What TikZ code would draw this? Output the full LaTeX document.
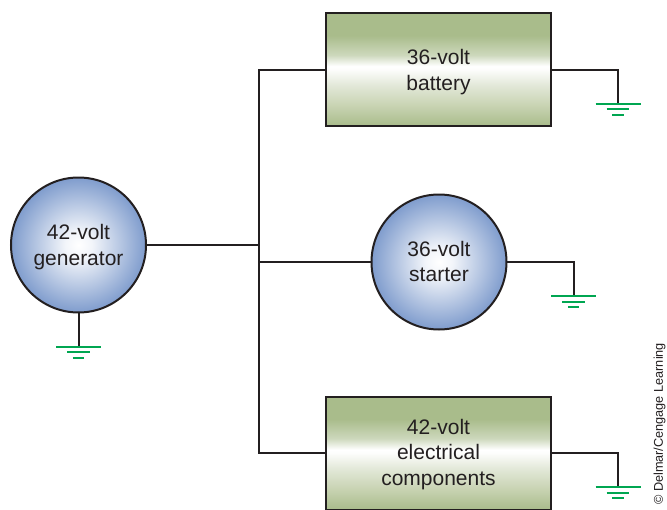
\documentclass[tikz,border=0pt]{standalone}
\usepackage{fontspec}
\setmainfont{Liberation Sans}
\definecolor{ink}{HTML}{231F20}
\definecolor{earth}{HTML}{00A651}
\definecolor{boxedge}{HTML}{A9BC8B}
\definecolor{boxup}{HTML}{CDD8BC}
\definecolor{boxmid}{HTML}{E2E8D8}
\definecolor{boxlow}{HTML}{C8D3B2}
\definecolor{blueedge}{HTML}{7F9CCD}
\pgfdeclareverticalshading{boxgrad}{100bp}{
  color(0bp)=(boxedge);
  color(25bp)=(boxedge);
  color(34bp)=(boxlow);
  color(43bp)=(boxmid);
  color(50bp)=(white!92!boxmid);
  color(51.5bp)=(white);
  color(56.4bp)=(boxup);
  color(65bp)=(boxedge);
  color(100bp)=(boxedge)}
\pgfdeclareradialshading{discgrad}{\pgfpoint{0bp}{0bp}}{
  color(0bp)=(white);
  color(5bp)=(white!90!blueedge);
  color(25bp)=(blueedge);
  color(50bp)=(blueedge)}
\tikzset{
  wire/.style={draw=ink,line width=2pt},
  label text/.style={text=ink,font=\fontsize{21}{25.7}\selectfont,align=center,inner sep=0pt},
  unitbox/.style={rectangle,draw=ink,line width=2pt,shading=boxgrad,
    minimum width=225pt,minimum height=113pt,inner sep=0pt,outer sep=0pt},
  unitdisc/.style={circle,draw=ink,line width=2pt,shading=discgrad,
    minimum size=135pt,inner sep=0pt,outer sep=0pt},
  groundmark/.pic={
    \draw[earth,line width=2pt] (-22.5,0) -- (22.5,0);
    \draw[earth,line width=2pt] (-11.3,5.6) -- (11.3,5.6);
    \draw[earth,line width=2pt] (-5.6,11.3) -- (5.6,11.3);
  }
}
\begin{document}
\begin{tikzpicture}[x=1pt,y=-1pt]
\useasboundingbox (0,0) rectangle (667,509);
\clip (0,0) rectangle (667,509);
\node[unitdisc,label={[label text,yshift=-2pt]center:42-volt\\generator}] (gen) at (78.5,245) {};
\node[unitdisc,label={[label text,yshift=0.5pt]center:36-volt\\starter}] (starter) at (439,262) {};
\node[unitbox,label={[label text,yshift=-2.5pt]center:36-volt\\battery}] (batt) at (438.5,69.5) {};
\node[unitbox,label={[label text,yshift=-1.5pt]center:42-volt\\electrical\\components}] (comp) at (438.5,453) {};
\coordinate (jgen) at (258.5,245);
\coordinate (jstart) at (258.5,262);
\coordinate (jbatt) at (258.5,69.5);
\coordinate (jcomp) at (258.5,453);
\coordinate (ggen) at (78.5,346.5);
\coordinate (gstart) at (573.5,296);
\coordinate (gbatt) at (618,103.5);
\coordinate (gcomp) at (618,487);
\draw[wire] (gen.east) -- (jgen);
\draw[wire,line cap=rect] (jbatt) -- (jcomp);
\draw[wire] (jbatt) -- (batt.west);
\draw[wire] (jstart) -- (starter.west);
\draw[wire] (jcomp) -- (comp.west);
\draw[wire] (gen.south) -- (ggen);
\draw[wire] (starter.east) -| (gstart);
\draw[wire] (batt.east) -| (gbatt);
\draw[wire] (comp.east) -| (gcomp);
\pic at (ggen) {groundmark};
\pic at (gstart) {groundmark};
\pic at (gbatt) {groundmark};
\pic at (gcomp) {groundmark};
\node[rotate=90,anchor=west,inner sep=0pt,text=ink,font=\fontsize{12.7}{14}\selectfont] (credit) at (659.5,505) {© Delmar/Cengage Learning};
\end{tikzpicture}
\end{document}
